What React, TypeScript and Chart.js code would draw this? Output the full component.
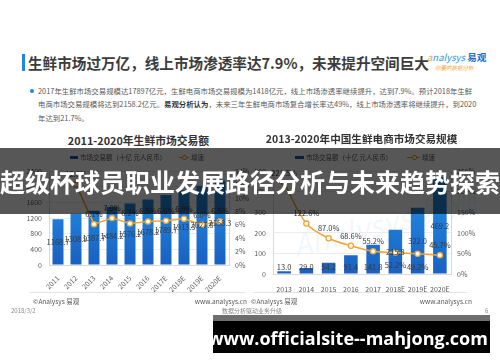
import React, { useEffect, useRef } from "react";
import { Chart, registerables } from "chart.js";
Chart.register(...registerables);

// ---- Left chart data ----
const leftYears = ["2011", "2012", "2013", "2014", "2015", "2016", "2017E", "2018E", "2019E", "2020E"];
const leftMarket = [1168.7, 1308.9, 1387.7, 1484.2, 1576.2, 1678.2, 1789.7, 1913.3, 2027.8, 2158.3];
const leftGrowth = [null, 12.0, 6.1, 7.0, 6.2, 6.5, 6.6, 6.9, 6.0, 6.5];
const leftYMax = 2400;
const leftYStep = 400;
const leftY1Max = 14;
const leftY1Step = 2;

// ---- Right chart data ----
const rightYears = ["2013", "2014", "2015", "2016", "2017", "2018E", "2019E", "2020E"];
const rightMarket = [13.0, 29.0, 54.2, 91.4, 141.8, 215.8, 322.0, 469.2];
const rightGrowth = [221.5, 122.6, 87.0, 68.6, 55.2, 52.2, 49.2, 45.7];
const rightGrowthBelow = [false, false, false, false, false, true, true, false];
const rightYMax = 500;
const rightYStep = 100;
const rightY1Max = 250;
const rightY1Step = 50;

const FONT = "'Noto Sans CJK SC', 'Noto Sans', sans-serif";
const LINE_COLOR = "#f0a532";
const TICK_COLOR = "#595959";

const barGradient = (ctx: any) => {
  const chart = ctx.chart;
  const area = chart.chartArea;
  if (!area) return "#1e88e5";
  const g = chart.ctx.createLinearGradient(0, area.top, 0, area.bottom);
  g.addColorStop(0, "#2298ee");
  g.addColorStop(1, "#1a60c0");
  return g;
};

const makeLabelPlugin = (mode: "left" | "right") => ({
  id: "valueLabels" + mode,
  afterDatasetsDraw(chart: any) {
    const ctx = chart.ctx;
    ctx.save();
    ctx.font = `7.5px ${FONT}`;
    ctx.fillStyle = "#3a3a3a";
    ctx.textAlign = "center";
    ctx.textBaseline = "middle";
    const barMeta = chart.getDatasetMeta(0);
    const base = chart.scales.y.getPixelForValue(0);
    barMeta.data.forEach((el: any, i: number) => {
      const v = chart.data.datasets[0].data[i];
      let y = (el.y + base) / 2;
      if (mode === "right" && v < 150) y = base - 7;
      ctx.fillText(v.toFixed(1), el.x, y);
    });
    const lineMeta = chart.getDatasetMeta(1);
    lineMeta.data.forEach((el: any, i: number) => {
      const v = chart.data.datasets[1].data[i];
      if (v === null || v === undefined) return;
      let y = el.y - 10;
      if (mode === "right" && rightGrowthBelow[i]) y = el.y + 13;
      ctx.fillText(v.toFixed(1) + "%", el.x, y);
    });
    ctx.restore();
  },
});

function buildChart(
  canvas: HTMLCanvasElement,
  mode: "left" | "right",
  cfg: {
    labels: string[];
    bars: number[];
    growth: (number | null)[];
    yMax: number;
    yStep: number;
    y1Max: number;
    y1Step: number;
    yWidth: number;
    y1Width: number;
    xHeight: number;
    padTop: number;
    rotate: boolean;
    tension: number;
  }
) {
  return new Chart(canvas, {
    type: "bar",
    data: {
      labels: cfg.labels,
      datasets: [
        {
          type: "bar",
          data: cfg.bars,
          backgroundColor: barGradient,
          categoryPercentage: 1,
          barPercentage: 0.61,
          yAxisID: "y",
          order: 1,
        } as any,
        {
          type: "line",
          data: cfg.growth,
          borderColor: LINE_COLOR,
          borderWidth: 1.5,
          pointRadius: 2.6,
          pointBackgroundColor: "#ffffff",
          pointBorderColor: LINE_COLOR,
          pointBorderWidth: 1.3,
          tension: cfg.tension,
          yAxisID: "y1",
          order: 0,
          spanGaps: false,
        } as any,
      ],
    },
    options: {
      animation: false,
      responsive: false,
      maintainAspectRatio: false,
      layout: { padding: { top: cfg.padTop, left: 0, right: 0, bottom: 0 } },
      plugins: { legend: { display: false }, tooltip: { enabled: false }, title: { display: false } },
      scales: {
        x: {
          grid: { display: false },
          border: { display: true, color: "#d9d9d9" },
          ticks: {
            color: TICK_COLOR,
            font: { size: 7, family: FONT },
            minRotation: cfg.rotate ? 45 : 0,
            maxRotation: cfg.rotate ? 45 : 0,
            padding: cfg.rotate ? 1 : 3,
            autoSkip: false,
          },
          afterFit: (s: any) => {
            s.height = cfg.xHeight;
          },
        },
        y: {
          position: "left",
          min: 0,
          max: cfg.yMax,
          grid: { color: "#ececec", drawTicks: false },
          border: { display: true, color: "#d9d9d9" },
          ticks: {
            stepSize: cfg.yStep,
            color: TICK_COLOR,
            font: { size: 7, family: FONT },
            padding: 7,
            callback: (v: any) => String(v),
          },
          afterFit: (s: any) => {
            s.width = cfg.yWidth;
          },
        },
        y1: {
          position: "right",
          min: 0,
          max: cfg.y1Max,
          grid: { display: false, drawTicks: false },
          border: { display: true, color: "#d9d9d9" },
          ticks: {
            stepSize: cfg.y1Step,
            color: TICK_COLOR,
            font: { size: 7, family: FONT },
            padding: 6,
            callback: (v: any) => v + "%",
          },
          afterFit: (s: any) => {
            s.width = cfg.y1Width;
          },
        },
      },
    } as any,
    plugins: [makeLabelPlugin(mode)],
  });
}

const T = (props: {
  x: number;
  y: number;
  size: number;
  children: React.ReactNode;
  color?: string;
  bold?: boolean;
  align?: "left" | "right" | "center";
  family?: string;
  z?: number;
  italic?: boolean;
}) => {
  const h = props.size * 1.6;
  const style: React.CSSProperties = {
    position: "absolute",
    top: props.y - h / 2,
    height: h,
    lineHeight: h + "px",
    fontSize: props.size,
    fontFamily: props.family || FONT,
    fontWeight: props.bold ? 700 : 400,
    fontStyle: props.italic ? "italic" : "normal",
    color: props.color || "#595959",
    whiteSpace: "nowrap",
    zIndex: props.z || 2,
  };
  if (props.align === "right") {
    style.right = 500 - props.x;
  } else if (props.align === "center") {
    style.left = props.x - 300;
    style.width = 600;
    style.textAlign = "center";
  } else {
    style.left = props.x;
  }
  return <div style={style}>{props.children}</div>;
};

const Box = (p: { x: number; y: number; w: number; h: number; c: string; z?: number; r?: number }) => (
  <div
    style={{
      position: "absolute",
      left: p.x,
      top: p.y,
      width: p.w,
      height: p.h,
      background: p.c,
      zIndex: p.z || 2,
      borderRadius: p.r || 0,
    }}
  />
);

export default function App() {
  const leftRef = useRef<HTMLCanvasElement>(null);
  const rightRef = useRef<HTMLCanvasElement>(null);

  useEffect(() => {
    const c1 = buildChart(leftRef.current!, "left", {
      labels: leftYears,
      bars: leftMarket,
      growth: leftGrowth,
      yMax: leftYMax,
      yStep: leftYStep,
      y1Max: leftY1Max,
      y1Step: leftY1Step,
      yWidth: 49,
      y1Width: 21,
      xHeight: 30,
      padTop: 9,
      rotate: true,
      tension: 0,
    });
    const c2 = buildChart(rightRef.current!, "right", {
      labels: rightYears,
      bars: rightMarket,
      growth: rightGrowth,
      yMax: rightYMax,
      yStep: rightYStep,
      y1Max: rightY1Max,
      y1Step: rightY1Step,
      yWidth: 23,
      y1Width: 49,
      xHeight: 21,
      padTop: 7,
      rotate: false,
      tension: 0.35,
    });
    return () => {
      c1.destroy();
      c2.destroy();
    };
  }, []);

  return (
    <div
      style={{
        position: "fixed",
        left: 0,
        top: 0,
        width: 500,
        height: 362,
        background: "#ffffff",
        overflow: "hidden",
        fontFamily: FONT,
      }}
    >
      {/* header */}
      <Box x={22} y={54} w={2.5} h={17} c="#1e88e5" />
      <T x={28} y={63} size={14.6} bold color="#3c3c3c">
        生鲜市场过万亿，线上市场渗透率达7.9%，未来提升空间巨大
      </T>
      <T x={427} y={58} size={9.5} italic color="#1e9be8">
        <span style={{ color: "#f0a532" }}>a</span>nalysys <span style={{ fontStyle: "normal", fontWeight: 700, color: "#1a6ec8" }}>易观</span>
      </T>
      <T x={435} y={68} size={5.5} italic color="#f0a532">
        你要的数据分析
      </T>
      <Box x={30} y={88.5} w={4} h={4} c="#1e88e5" r={2} />
      <T x={38} y={90.7} size={7.4}>
        2017年生鲜市场交易规模达17897亿元，生鲜电商市场交易规模为1418亿元，线上市场渗透率继续提升，达到7.9%。预计2018年生鲜
      </T>
      <T x={38} y={104.4} size={7.4}>
        电商市场交易规模将达到2158.2亿元。<b style={{ color: "#333" }}>易观分析认为</b>，未来三年生鲜电商市场复合增长率达49%，线上市场渗透率将继续提升，到2020
      </T>
      <T x={38} y={118.2} size={7.4}>
        年达到21.7%。
      </T>

      {/* left chart title & legend */}
      <T x={138.5} y={140.7} size={10.8} bold color="#333" align="center">
        2011-2020年生鲜市场交易额
      </T>
      <Box x={70} y={155.5} w={8} h={3.5} c="#1a5fb4" />
      <T x={80} y={157.3} size={6.5}>
        市场交易额（十亿 元人民币）
      </T>
      <Box x={179} y={156.6} w={10} h={1.3} c={LINE_COLOR} />
      <div style={{ position: "absolute", left: 182, top: 155, width: 3, height: 3, borderRadius: 2, border: `1px solid ${LINE_COLOR}`, background: "#fff", zIndex: 2 }} />
      <T x={191} y={157.3} size={6.5}>
        增速
      </T>

      {/* right chart title & legend */}
      <T x={361.5} y={139.5} size={10.6} bold color="#333" align="center">
        2013-2020年中国生鲜电商市场交易规模
      </T>
      <Box x={295} y={155.5} w={9} h={3.5} c="#1a5fb4" />
      <T x={306} y={157.3} size={6.5}>
        市场交易额（十亿 元人民币）
      </T>
      <Box x={407} y={156.6} w={13} h={1.3} c={LINE_COLOR} />
      <div style={{ position: "absolute", left: 411.5, top: 155, width: 3, height: 3, borderRadius: 2, border: `1px solid ${LINE_COLOR}`, background: "#fff", zIndex: 2 }} />
      <T x={422} y={157.3} size={6.5}>
        增速
      </T>

      {/* watermark */}
      <div
        style={{
          position: "absolute",
          left: 290,
          top: 200,
          fontSize: 30,
          fontStyle: "italic",
          fontFamily: FONT,
          color: "rgba(30,150,230,0.08)",
          transform: "rotate(-14deg)",
          whiteSpace: "nowrap",
          zIndex: 0,
        }}
      >
        Analysys 易观
      </div>

      {/* canvases */}
      <canvas ref={leftRef} width={250} height={135} style={{ position: "absolute", left: 0, top: 160, width: 250, height: 135, zIndex: 1 }} />
      <canvas ref={rightRef} width={250} height={135} style={{ position: "absolute", left: 250, top: 160, width: 250, height: 135, zIndex: 1 }} />

      {/* footers */}
      <Box x={30} y={292} w={215} h={1} c="#e2e2e2" />
      <Box x={253} y={292} w={214} h={1} c="#e2e2e2" />
      <T x={33} y={301} size={6.5} color="#555">
        ©Analysys 易观
      </T>
      <T x={247} y={301} size={6.5} color="#555" align="right">
        www.analysys.cn
      </T>
      <T x={251} y={301} size={6.5} color="#555">
        ©Analysys 易观
      </T>
      <T x={472} y={301} size={6.5} color="#555" align="right">
        www.analysys.cn
      </T>
      <T x={11} y={310.7} size={6} color="#8a8a8a">
        2018/3/2
      </T>
      <T x={222} y={310.5} size={6} color="#8a8a8a">
        数据分析驱动业务升级
      </T>
      <T x={485} y={310.5} size={6} color="#8a8a8a">
        6
      </T>

      {/* overlay banner */}
      <Box x={0} y={148} w={500} h={66} c="rgba(0,0,0,0.66)" z={5} />
      <T x={250} y={181} size={25} bold color="#ffffff" align="center" z={6}>
        超级杯球员职业发展路径分析与未来趋势探索
      </T>

      {/* bottom url box */}
      <Box x={213} y={315} w={277} h={6} c="#6e6e6e" z={5} />
      <Box x={213} y={321} w={277} h={32} c="#000000" z={5} />
      <T x={348} y={338.5} size={18} bold color="#ffffff" align="center" family="'Open Sans', 'DejaVu Sans', sans-serif" z={6}>
        www.officialsite--mahjong.com
      </T>
    </div>
  );
}
